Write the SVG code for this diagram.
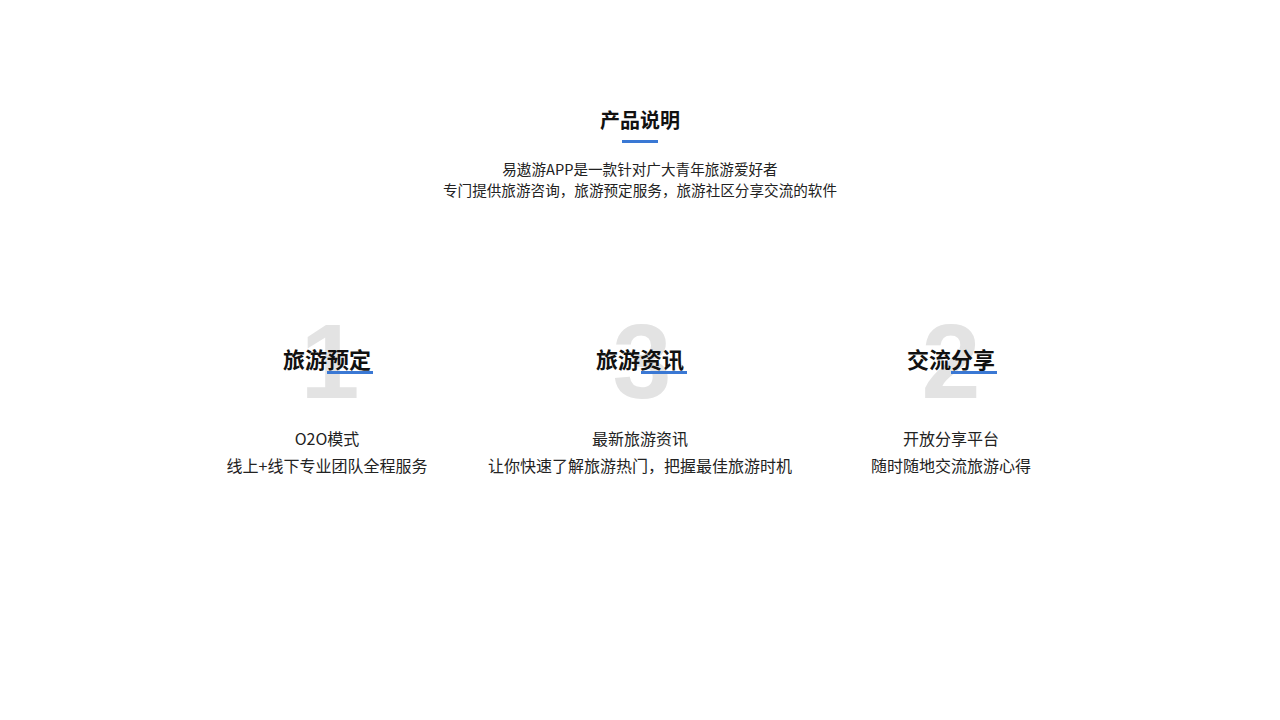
<svg xmlns="http://www.w3.org/2000/svg" width="1280" height="720" viewBox="0 0 1280 720">
<style>
text{font-family:"Noto Sans CJK SC","Liberation Sans",sans-serif;text-anchor:middle}
.big{font-family:"Liberation Sans",sans-serif;font-weight:bold;font-size:106px;fill:#e3e3e3}
.h{font-size:20px;font-weight:bold;fill:#111}
.h2{font-size:22px;font-weight:bold;fill:#111}
.b{font-size:14.6px;fill:#222}
.c{font-size:16px;fill:#222}
.u{fill:#3a78d4}
</style>
<rect width="1280" height="720" fill="#fff"/>
<g id="header">
<text class="h" x="640" y="128">产品说明</text>
<rect class="u" x="622" y="140" width="36" height="3"/>
<text class="b" x="640" y="175">易遨游APP是一款针对广大青年旅游爱好者</text>
<text class="b" x="640" y="196">专门提供旅游咨询，旅游预定服务，旅游社区分享交流的软件</text>
</g>
<g id="n1">
<text class="big" x="330" y="398">1</text>
<rect class="u" x="327" y="371" width="46" height="3"/>
<text class="h2" x="327" y="368">旅游预定</text>
<text class="c" x="327" y="445">O2O模式</text>
<text class="c" x="327" y="472">线上+线下专业团队全程服务</text>
</g>
<g id="n3">
<text class="big" x="642" y="398">3</text>
<rect class="u" x="641" y="371" width="46" height="3"/>
<text class="h2" x="640" y="368">旅游资讯</text>
<text class="c" x="640" y="445">最新旅游资讯</text>
<text class="c" x="640" y="472">让你快速了解旅游热门，把握最佳旅游时机</text>
</g>
<g id="n2">
<text class="big" x="951" y="398">2</text>
<rect class="u" x="951" y="371" width="46" height="3"/>
<text class="h2" x="951" y="368">交流分享</text>
<text class="c" x="951" y="445">开放分享平台</text>
<text class="c" x="951" y="472">随时随地交流旅游心得</text>
</g>
<g id="connectors"/>
</svg>
